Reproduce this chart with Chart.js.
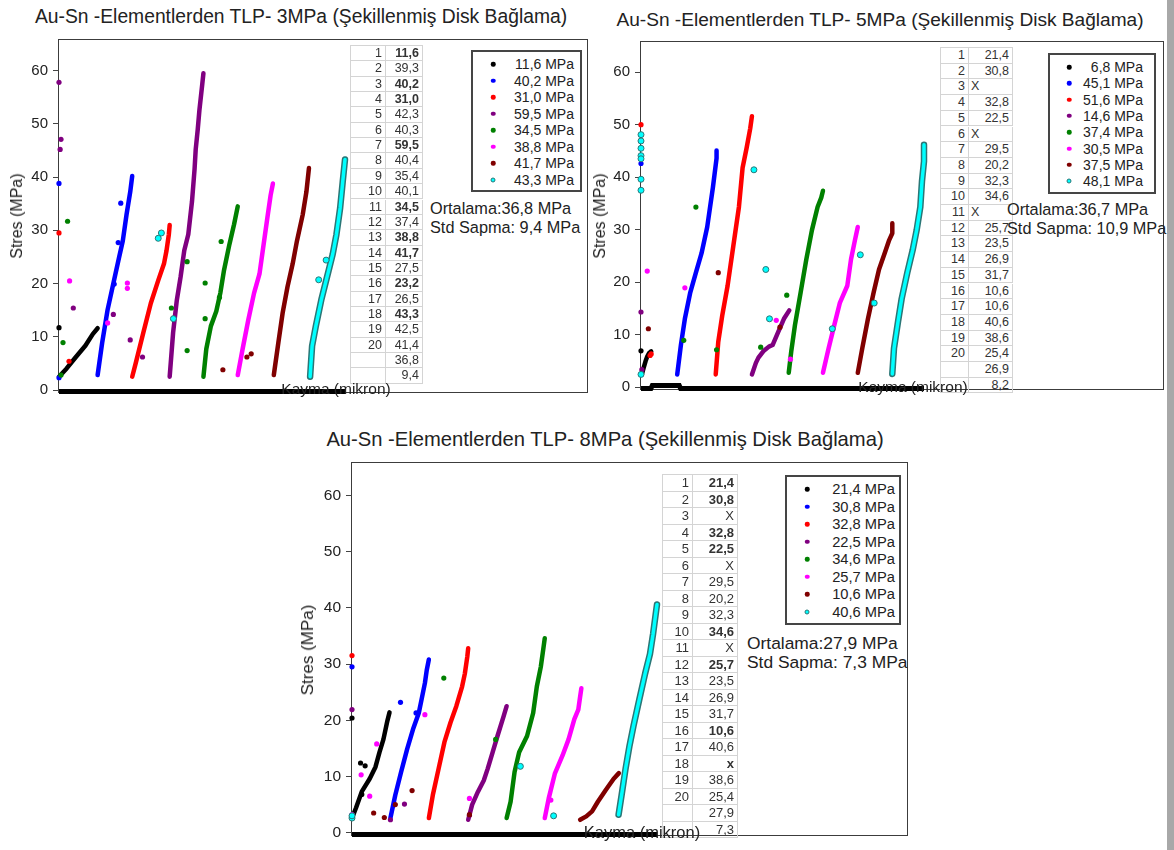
<!DOCTYPE html>
<html>
<head>
<meta charset="utf-8">
<script src="https://cdn.jsdelivr.net/npm/chart.js@4.4.1/dist/chart.umd.min.js"></script>
<style>
  body { margin: 0; background: #fff; font-family: "Liberation Sans", Arial, sans-serif; color: #222; }
  #page { position: relative; width: 1174px; height: 850px; overflow: hidden; background: #fff; }
  .txt { position: absolute; white-space: nowrap; transform: translate(-50%, -50%); }
  .ytitle { position: absolute; white-space: nowrap; transform: translate(-50%, -50%) rotate(-90deg); }
  .frame { position: absolute; border: 1px solid #3c3c3c; box-sizing: border-box; }
  canvas { position: absolute; }
  .grid { position: absolute; border-top: 1px solid #d4d4d4; border-left: 1px solid #d4d4d4; box-sizing: border-box; }
  .cell { position: absolute; border-right: 1px solid #d4d4d4; border-bottom: 1px solid #d4d4d4; box-sizing: border-box; color: #333; }
  .legend { position: absolute; border: 2px solid #454545; box-sizing: border-box; background: #fff; }
  .dot { position: absolute; border-radius: 50%; transform: translate(-50%, -50%); }
  .stat { position: absolute; white-space: nowrap; transform: translateY(-50%); }
  #edge { position: absolute; left: 1167px; top: 0; width: 7px; height: 850px; background: #a8a8a8; }
</style>
</head>
<body>
<div id="page"><div id="edge"></div></div>
<script>
// series colours shared by all three panels
const seriesColors = ['#000000', '#0000ff', '#ff0000', '#800080', '#008000', '#ff00ff', '#800000', '#00ffff'];

// ---- 3 MPa ----
const labels3 = ['11,6 MPa', '40,2 MPa', '31,0 MPa', '59,5 MPa', '34,5 MPa', '38,8 MPa', '41,7 MPa', '43,3 MPa'];
const curves3 = [
  [[0,2.5],[2.6,4.0],[5.9,6.2],[9.2,8.3],[11.8,10.5],[13.5,11.6]],
  [[13.5,2.8],[15.1,8.9],[17.0,15.1],[19.0,20.0],[21.0,24.9],[22.3,28.0],[23.6,32.9],[24.9,37.2],[25.6,40.2]],
  [[25.6,2.5],[26.9,5.2],[29.5,10.8],[32.1,16.3],[34.7,20.6],[36.7,23.7],[37.6,26.2],[38.4,29.2],[38.7,31.0]],
  [[38.7,2.5],[39.9,10.8],[41.2,16.9],[42.5,21.2],[43.8,26.2],[45.2,29.2],[46.5,35.4],[47.4,41.5],[47.8,45.2],[48.5,48.9],[49.1,52.6],[50.1,57.5],[50.5,59.5]],
  [[50.5,2.5],[51.5,7.7],[53.1,12.0],[55.0,14.8],[56.4,18.2],[57.7,22.5],[59.6,27.4],[61.2,31.1],[62.5,34.5]],
  [[62.5,2.8],[64.2,7.7],[66.2,13.2],[68.2,18.2],[70.1,21.8],[71.4,26.8],[73.0,32.9],[74.0,36.6],[74.8,38.8]],
  [[75.1,2.8],[76.7,8.9],[78.2,14.5],[79.9,19.4],[81.7,23.7],[83.2,28.0],[85.2,32.9],[86.5,37.2],[87.4,41.7]],
  [[87.8,2.5],[88.5,8.3],[89.8,12.0],[91.7,16.9],[93.7,21.2],[95.7,25.5],[97.0,29.2],[98.3,34.2],[99.2,39.1],[100,43.3]]
];
const strays3 = [
  [[0,11.7]],
  [[0,38.8],[21.6,35.1],[20.7,27.7],[19.3,19.9],[0,2.3]],
  [[0,29.5],[3.5,5.4]],
  [[0,57.8],[0.7,47.1],[0.4,45.2],[5.0,15.4],[19.0,14.2],[24.9,9.4],[29.2,6.2]],
  [[3.0,31.7],[1.4,8.9],[0.7,2.8],[44.8,24.1],[39.3,15.4],[51.1,20.1],[51.1,13.4],[56.7,27.9],[56.1,17.4],[44.8,7.4]],
  [[3.7,20.5],[17.0,12.6],[23.9,20.1],[23.9,19.1]],
  [[57.3,3.8],[65.7,6.2],[67.2,6.8]],
  [[90.8,20.7],[93.4,24.4],[34.7,28.5],[35.8,29.5],[40.0,13.4]]
];
const base3 = [[0,-0.3],[100,-0.3]];
const table3 = ['11,6','39,3','40,2','31,0','42,3','40,3','59,5','40,4','35,4','40,1','34,5','37,4','38,8','41,7','27,5','23,2','26,5','43,3','42,5','41,4','36,8','9,4'];
const bold3 = [1, 3, 4, 7, 11, 13, 14, 16, 18];
const stats3 = ['Ortalama:36,8 MPa', 'Std Sapma: 9,4 MPa'];

// ---- 5 MPa ----
const labels5 = ['6,8 MPa', '45,1 MPa', '51,6 MPa', '14,6 MPa', '37,4 MPa', '30,5 MPa', '37,5 MPa', '48,1 MPa'];
const curves5 = [
  [[0.3,2.4],[0.9,3.6],[1.6,4.9],[2.2,5.8],[2.9,6.5],[3.6,6.8]],
  [[12.8,2.4],[14.1,8.0],[15.5,13.0],[17.4,18.0],[19.4,21.8],[21.4,25.5],[23.4,30.5],[25.4,38.0],[26.7,43.6],[26.7,45.1]],
  [[26.4,2.4],[27.3,8.6],[28.7,13.6],[30.6,19.3],[32.6,26.8],[34.6,34.3],[35.9,41.8],[37.3,45.5],[38.6,49.3],[39.2,51.6]],
  [[39.2,2.4],[40.6,4.6],[41.5,5.6],[43.2,6.8],[45.2,7.7],[46.5,8.0],[48.5,10.5],[50.5,13.0],[52.4,14.6]],
  [[52.2,2.7],[53.1,6.8],[54.4,11.8],[56.4,18.0],[58.4,24.3],[60.4,29.9],[62.4,34.3],[63.7,36.1],[64.3,37.4]],
  [[64.3,2.7],[66.3,7.4],[68.3,11.8],[70.3,16.1],[72.9,19.3],[74.2,24.3],[75.6,28.0],[76.6,30.5]],
  [[76.6,2.7],[78.2,7.4],[80.2,13.0],[82.2,18.0],[84.1,22.4],[86.1,25.5],[87.7,28.0],[88.8,29.3],[88.8,31.2]],
  [[88.8,2.5],[89.4,7.4],[90.8,12.4],[92.1,16.8],[94.1,21.8],[96.0,26.1],[97.4,29.9],[98.7,34.3],[99.3,39.3],[100,43.0],[100,46.2]]
];
const strays5 = [
  [[0,6.9]],
  [[0,42.6]],
  [[0,50.0],[3.6,6.3],[3.2,6.0]],
  [[0,14.3],[0.3,3.3]],
  [[19.4,34.3],[15.1,8.9],[26.7,7.1],[51.5,17.5],[42.3,7.6]],
  [[2.2,22.1],[15.5,18.9],[47.8,12.7],[52.8,5.3]],
  [[2.6,11.1],[27.3,21.8],[49.1,11.4]],
  [[0,48.1],[0,46.9],[0,45.5],[0,44.1],[0,43.5],[0,39.6],[0,37.5],[0,2.4],[39.9,41.4],[44.1,22.4],[45.4,13.0],[67.6,11.1],[77.5,25.2],[82.4,16.0]]
];
const base5 = [[0,-0.3],[3.5,-0.3],[4,0.3],[13.5,0.3],[14,-0.3],[100,-0.3]];
const table5 = ['21,4','30,8','X','32,8','22,5','X','29,5','20,2','32,3','34,6','X','25,7','23,5','26,9','31,7','10,6','10,6','40,6','38,6','25,4','26,9','8,2'];
const bold5 = [];
const stats5 = ['Ortalama:36,7 MPa', 'Std Sapma: 10,9 MPa'];

// ---- 8 MPa ----
const labels8 = ['21,4 MPa', '30,8 MPa', '32,8 MPa', '22,5 MPa', '34,6 MPa', '25,7 MPa', '10,6 MPa', '40,6 MPa'];
const curves8 = [
  [[0,2.6],[1.3,4.4],[3.2,7.3],[5.8,9.6],[7.7,11.7],[9.0,14.3],[10.3,16.6],[11.6,19.9],[12.3,21.4]],
  [[12.6,2.6],[14.2,6.7],[16.1,10.8],[18.1,14.9],[20.0,18.4],[21.9,21.3],[23.0,24.2],[23.9,26.6],[24.5,28.9],[25.2,30.8]],
  [[25.2,2.6],[26.5,6.7],[28.4,11.4],[30.3,16.1],[32.3,19.6],[34.2,22.5],[36.1,26.0],[37.0,28.3],[37.8,31.3],[38.1,32.8]],
  [[38.1,2.3],[39.4,5.0],[41.3,7.3],[43.2,9.3],[44.5,11.4],[46.1,14.3],[47.7,17.2],[49.7,20.7],[50.7,22.5]],
  [[50.7,2.6],[52.0,5.5],[53.3,10.8],[54.8,14.3],[57.4,17.2],[59.4,21.3],[60.6,26.0],[61.9,29.5],[62.8,33.0],[63.2,34.6]],
  [[63.2,2.6],[64.5,6.1],[66.5,10.5],[69.0,13.7],[71.0,16.6],[72.9,20.2],[74.2,21.9],[74.8,24.2],[75.2,25.7]],
  [[74.8,2.3],[76.8,2.9],[78.7,3.8],[80.6,5.5],[83.2,7.6],[85.8,9.6],[87.5,10.6]],
  [[87.4,3.2],[88.4,6.7],[89.7,11.4],[91.0,15.5],[92.3,19.0],[94.2,23.7],[96.1,28.3],[97.7,31.8],[98.7,35.3],[99.7,39.4],[100,40.6]]
];
const strays8 = [
  [[0,20.4],[2.8,12.4],[4.3,11.9],[3.2,6.8]],
  [[0,29.5],[15.9,23.2],[21.0,21.3]],
  [[0,31.5]],
  [[0,21.9],[12.6,2.3],[17.2,5.1],[38.5,3.1]],
  [[30.1,27.5],[47.1,16.6]],
  [[0,3.2],[3.0,10.3],[5.8,6.5],[8.1,15.8],[23.9,21.0],[38.5,6.1],[65.2,5.8]],
  [[7.1,3.5],[10.6,2.7],[14.2,5.0],[19.7,7.5],[38.5,3.2]],
  [[0,2.6],[0,3.0],[55.2,11.8],[66.1,3.0]]
];
const base8 = [[0,-0.3],[100,-0.3]];
const table8 = ['21,4','30,8','X','32,8','22,5','X','29,5','20,2','32,3','34,6','X','25,7','23,5','26,9','31,7','10,6','40,6','x','38,6','25,4','27,9','7,3'];
const bold8 = [1, 2, 4, 5, 10, 12, 16, 18];
const stats8 = ['Ortalama:27,9 MPa', 'Std Sapma: 7,3 MPa'];

const yTicks = [0, 10, 20, 30, 40, 50, 60];
const FONT = '"Liberation Sans", Arial, sans-serif';
const page = document.getElementById('page');

function el(cls, css, text) {
  const d = document.createElement('div');
  d.className = cls;
  Object.assign(d.style, css);
  if (text !== undefined) d.textContent = text;
  page.appendChild(d);
  return d;
}

function plot(p, curves, strays, base) {
  const cv = document.createElement('canvas');
  const w = p.barEnd - p.frameL + 70, h = p.zeroY - p.frameT + 22;
  cv.width = w; cv.height = h;
  Object.assign(cv.style, { left: (p.frameL - 60) + 'px', top: (p.frameT - 10) + 'px', width: w + 'px', height: h + 'px' });
  page.appendChild(cv);

  const datasets = [{
    data: base, showLine: true, borderColor: '#000', borderWidth: 5, pointRadius: 0,
    borderCapStyle: 'butt', clip: false, order: 40
  }];
  curves.forEach(function(c, i) {
    const col = seriesColors[i];
    if (i === 7) {
      // cyan markers have a dark rim, so the curve gets an outline pass underneath
      datasets.push({ data: c, showLine: true, borderColor: '#2a7676', borderWidth: 6.5, pointRadius: 0,
        borderCapStyle: 'round', borderJoinStyle: 'round', clip: false, order: 21 });
      datasets.push({ data: c, showLine: true, borderColor: col, borderWidth: 3.5, pointRadius: 0,
        borderCapStyle: 'round', borderJoinStyle: 'round', clip: false, order: 20 });
    } else {
      datasets.push({ data: c, showLine: true, borderColor: col, borderWidth: 4.5, pointRadius: 0,
        borderCapStyle: 'round', borderJoinStyle: 'round', clip: false, order: 30 - i });
    }
  });
  strays.forEach(function(s, i) {
    const cyan = i === 7;
    datasets.push({ data: s, showLine: false, pointRadius: cyan ? 3 : 2.6,
      backgroundColor: seriesColors[i], borderColor: cyan ? '#2a7676' : seriesColors[i],
      borderWidth: cyan ? 1 : 0, clip: false, order: 10 - i });
  });

  new Chart(cv, {
    type: 'scatter',
    data: { datasets: datasets },
    options: {
      responsive: false, animation: false, events: [],
      layout: { autoPadding: false, padding: { left: 0, top: 10, right: 10, bottom: 12 } },
      plugins: { legend: { display: false }, tooltip: { enabled: false } },
      scales: {
        x: { type: 'linear', min: 0, max: 100, display: false },
        y: {
          min: 0, max: 65,
          afterFit: function(s) { s.width = 60; },
          afterBuildTicks: function(s) { s.ticks = yTicks.map(function(v) { return { value: v }; }); },
          ticks: { padding: 5, color: '#222', font: { family: FONT, size: p.tickSize } },
          grid: { drawOnChartArea: false, tickLength: 6, tickColor: '#444', lineWidth: 1 },
          border: { display: false }
        }
      }
    }
  });
}

function valueTable(p, vals, bold) {
  const t = p.table;
  const wTot = t.c1 + t.c2;
  el('grid', { left: t.x + 'px', top: t.y + 'px', width: (wTot + 1) + 'px', height: (vals.length * t.rh + 1) + 'px' });
  vals.forEach(function(v, i) {
    const top = t.y + 1 + i * t.rh;
    const base = { top: top + 'px', height: t.rh + 'px', lineHeight: t.rh + 'px', fontSize: t.fs + 'px' };
    el('cell', Object.assign({}, base, { left: (t.x + 1) + 'px', width: t.c1 + 'px', textAlign: 'right', paddingRight: '3px' }),
      i < 20 ? String(i + 1) : '');
    const leftX = (v === 'X' && t.xLeft);
    el('cell', Object.assign({}, base, {
      left: (t.x + 1 + t.c1) + 'px', width: t.c2 + 'px',
      textAlign: leftX ? 'left' : 'right', paddingRight: '3px', paddingLeft: leftX ? '2px' : '0',
      fontWeight: bold.indexOf(i + 1) >= 0 ? 'bold' : 'normal'
    }), v);
  });
}

function legendBox(p, labels) {
  const L = p.legend;
  el('legend', { left: L.x + 'px', top: L.y + 'px', width: L.w + 'px', height: L.h + 'px' });
  labels.forEach(function(lab, i) {
    const cy = L.row0 + i * L.step;
    const cyan = i === 7;
    el('dot', { left: L.mx + 'px', top: cy + 'px', width: (cyan ? 5 : 4.5) + 'px', height: (cyan ? 5 : 4.5) + 'px',
      background: seriesColors[i], boxSizing: 'border-box', border: cyan ? '1px solid #2a7676' : 'none' });
    el('stat', { left: (L.tr - 120) + 'px', top: cy + 'px', width: '120px', textAlign: 'right', fontSize: L.fs + 'px' }, lab);
  });
}

function panel(p, d) {
  el('frame', { left: (p.frameL - 1) + 'px', top: (p.frameT - 1) + 'px',
    width: (p.frameR - p.frameL + 2) + 'px', height: (p.zeroY - p.frameT + 2) + 'px' });
  el('txt', { left: p.title[0] + 'px', top: p.title[1] + 'px', fontSize: p.title[2] + 'px' }, p.titleText);
  plot(p, d.curves, d.strays, d.base);
  el('ytitle', { left: p.ytitle[0] + 'px', top: p.ytitle[1] + 'px', fontSize: p.ytitle[2] + 'px' }, 'Stres (MPa)');
  valueTable(p, d.table, d.bold);
  legendBox(p, d.labels);
  el('stat', { left: p.stats[0] + 'px', top: p.stats[1] + 'px', fontSize: p.stats[3] + 'px' }, d.stats[0]);
  el('stat', { left: p.stats[0] + 'px', top: p.stats[2] + 'px', fontSize: p.stats[3] + 'px' }, d.stats[1]);
  el('txt', { left: p.xtitle[0] + 'px', top: p.xtitle[1] + 'px', fontSize: p.xtitle[2] + 'px' }, 'Kayma (mikron)');
}

panel({
  titleText: 'Au-Sn -Elementlerden TLP- 3MPa (Şekillenmiş Disk Bağlama)', title: [301, 17, 19.3],
  frameL: 59, frameT: 40, frameR: 587, zeroY: 392, barEnd: 345, tickSize: 15,
  ytitle: [17, 216, 16], xtitle: [336, 389, 15.5],
  table: { x: 350, y: 45, c1: 35, c2: 37, rh: 15.35, fs: 12.5, xLeft: false },
  legend: { x: 471, y: 50, w: 111, h: 142, row0: 64, mx: 493, tr: 574, step: 16.5, fs: 14 },
  stats: [430, 208, 227, 16.3]
}, { curves: curves3, strays: strays3, base: base3, table: table3, bold: bold3, labels: labels3, stats: stats3 });

panel({
  titleText: 'Au-Sn -Elementlerden TLP- 5MPa (Şekillenmiş Disk Bağlama)', title: [880, 20, 19.1],
  frameL: 641, frameT: 42, frameR: 1163, zeroY: 389, barEnd: 924, tickSize: 15,
  ytitle: [600, 216, 16], xtitle: [913, 387, 15.5],
  table: { x: 940, y: 47, c1: 28, c2: 44, rh: 15.7, fs: 12.5, xLeft: true },
  legend: { x: 1048, y: 53, w: 108, h: 141, row0: 67, mx: 1069, tr: 1143, step: 16.3, fs: 14 },
  stats: [1007, 209, 228, 16.3]
}, { curves: curves5, strays: strays5, base: base5, table: table5, bold: bold5, labels: labels5, stats: stats5 });

panel({
  titleText: 'Au-Sn -Elementlerden TLP- 8MPa (Şekillenmiş Disk Bağlama)', title: [605, 439, 20.2],
  frameL: 352, frameT: 463, frameR: 907, zeroY: 835, barEnd: 657, tickSize: 15.5,
  ytitle: [308, 650, 17], xtitle: [642, 832, 16.5],
  table: { x: 662, y: 474, c1: 30, c2: 45, rh: 16.5, fs: 13, xLeft: false },
  legend: { x: 785, y: 475, w: 116, h: 150, row0: 489, mx: 807, tr: 895, step: 17.5, fs: 14.7 },
  stats: [747, 643, 662, 17.4]
}, { curves: curves8, strays: strays8, base: base8, table: table8, bold: bold8, labels: labels8, stats: stats8 });
</script>
</body>
</html>
